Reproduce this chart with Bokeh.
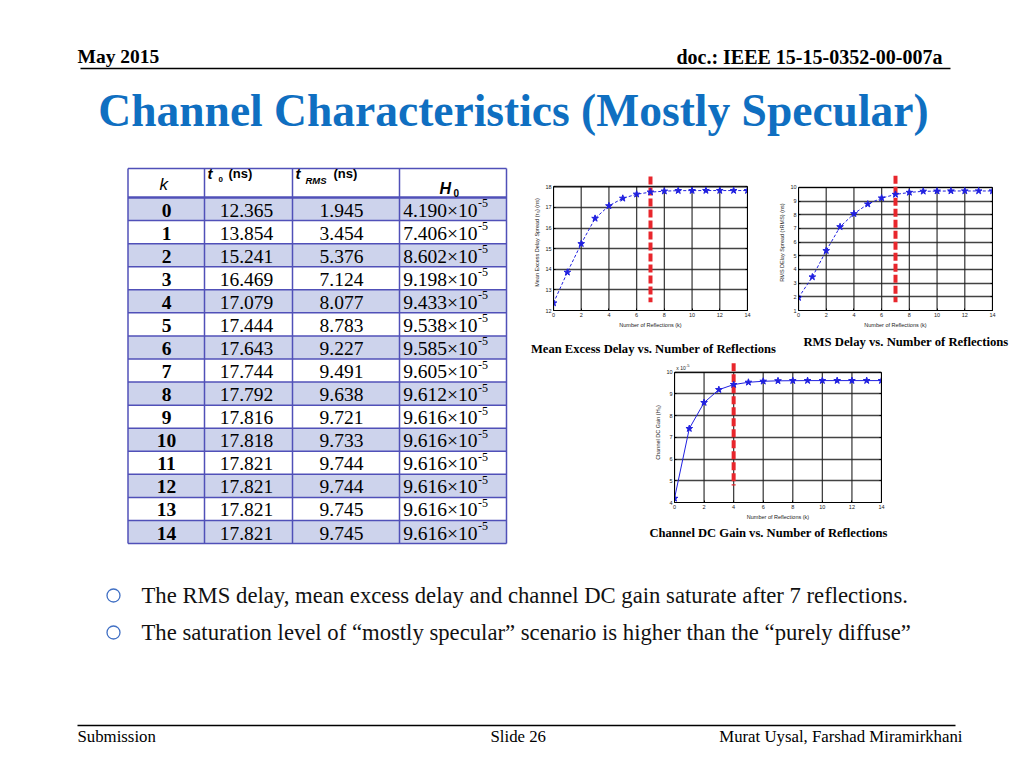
import numpy as np
from bokeh.plotting import figure
from bokeh.models import Range1d, FixedTicker, LinearAxis, Spacer
from bokeh.layouts import column, row
from bokeh.core.properties import value
from bokeh.embed import file_html
from bokeh.resources import INLINE

# ---------------- data ----------------
k = list(range(15))
tau0 = [12.365, 13.854, 15.241, 16.469, 17.079, 17.444, 17.643, 17.744,
        17.792, 17.816, 17.818, 17.821, 17.821, 17.821, 17.821]
trms = [1.945, 3.454, 5.376, 7.124, 8.077, 8.783, 9.227, 9.491,
        9.638, 9.721, 9.733, 9.744, 9.744, 9.745, 9.745]
h0 = [4.190, 7.406, 8.602, 9.198, 9.433, 9.538, 9.585, 9.605,
      9.612, 9.616, 9.616, 9.616, 9.616, 9.616, 9.616]   # x 10^-5
h0_exp = -5
x_ticks = [0, 2, 4, 6, 8, 10, 12, 14]
tau0_ticks = [12, 13, 14, 15, 16, 17, 18]
trms_ticks = [1, 2, 3, 4, 5, 6, 7, 8, 9, 10]
h0_ticks = [4, 5, 6, 7, 8, 9, 10]
sat_tau0, sat_trms, sat_h0 = 7, 7, 4

date_text = "May 2015"
doc_text = "doc.: IEEE 15-15-0352-00-007a"
title_text = "Channel Characteristics (Mostly Specular)"
bullets = ["The RMS delay, mean excess delay and channel DC gain saturate after 7 reflections.",
           "The saturation level of \u201cmostly specular\u201d scenario is higher than the \u201cpurely diffuse\u201d"]
footer_left, footer_mid, footer_right = "Submission", "Slide 26", "Murat Uysal, Farshad Miramirkhani"
cap1 = "Mean Excess Delay vs. Number of Reflections"
cap2 = "RMS Delay vs. Number of Reflections"
cap3 = "Channel DC Gain vs. Number of Reflections"
xlab = "Number of Reflections (k)"
ylab1 = "Mean Excess Delay Spread (\u03c4\u2080) (ns)"
ylab2 = "RMS DElay Spread (\u03c4RMS) (ns)"
ylab3 = "Channel DC Gain (H\u2080)"

SERIF = "Liberation Serif"
SANS = "Liberation Sans"
BLUE_T = "#0f6fc1"
LINE_C = "#5050b8"
ROW_C = "#cdd3ec"
PLOT_C = "#2020e0"
RED = "#e8262c"


def canvas(w, h, x0, x1, y0, y1):
    return figure(width=w, height=h, x_range=Range1d(x0, x1), y_range=Range1d(y1, y0),
                  x_axis_type=None, y_axis_type=None, toolbar_location=None,
                  output_backend="svg", min_border=0, outline_line_color=None,
                  background_fill_color="white", border_fill_color="white")


def txt(p, x, y, s, size, font=SERIF, style="normal", color="#000000",
        align="left", baseline="middle"):
    p.text(x=x, y=y, text=s if isinstance(s, list) else [s],
           text_font=value(font), text_font_size=value(f"{size}px"),
           text_font_style=style, text_color=color, text_align=align,
           text_baseline=baseline)


# ---------------- top (header + title) ----------------
top = canvas(1016, 160, 0, 1016, 0, 160)
txt(top, 77, 55.5, date_text, 19.5, style="bold")
txt(top, 942, 56.5, doc_text, 20, style="bold", align="right")
top.segment(x0=[80], x1=[950], y0=[68], y1=[68], line_color="black", line_width=1.5)
txt(top, 513, 110, title_text, 45.5, style="bold", color=BLUE_T, align="center")

# ---------------- table ----------------
tp = canvas(515, 390, 0, 515, 160, 550)
col_edges = [127.5, 204, 292, 399, 506]
t_top, head_bot, rh = 168, 197, 23.07
n = len(k)
row_top = head_bot + np.arange(n) * rh
row_bot = row_top + rh
row_mid = row_top + rh / 2
fills = [ROW_C if i % 2 == 0 else "white" for i in k]
tp.quad(left=col_edges[0], right=col_edges[-1], top=row_top, bottom=row_bot,
        fill_color=fills, line_color=None)
hy = [t_top] + list(row_bot)
tp.segment(x0=col_edges[0], x1=col_edges[-1], y0=hy, y1=hy, line_color=LINE_C, line_width=1.5)
tp.segment(x0=[col_edges[0]], x1=[col_edges[-1]], y0=[head_bot], y1=[head_bot],
           line_color=LINE_C, line_width=2.5)
tp.segment(x0=col_edges, x1=col_edges, y0=t_top, y1=row_bot[-1], line_color=LINE_C, line_width=1.5)

# header
txt(tp, 159, 184, "k", 17, font=SANS, style="italic")
txt(tp, 207, 173, "t", 15, font=SANS, style="bold italic")
txt(tp, 218, 179, "0", 8, font=SANS, style="bold")
txt(tp, 228, 173, "(ns)", 13, font=SANS, style="bold")
txt(tp, 295, 173, "t", 15, font=SANS, style="bold italic")
txt(tp, 305, 180, "RMS", 9.5, font=SANS, style="bold italic")
txt(tp, 333, 173, "(ns)", 13, font=SANS, style="bold")
txt(tp, 439, 188, "H", 16, font=SANS, style="bold italic")
txt(tp, 453, 192, "0", 10, font=SANS, style="bold")

ty = row_mid + 1
txt(tp, 166, ty, [str(v) for v in k], 19.5, style="bold", align="center")
txt(tp, 246, ty, [f"{v:.3f}" for v in tau0], 19.5, align="center")
txt(tp, 341, ty, [f"{v:.3f}" for v in trms], 19.5, align="center")
txt(tp, 477, ty, [f"{v:.3f}\u00d710" for v in h0], 19.5, align="right")
txt(tp, 477.5, ty - 7, [str(h0_exp)] * n, 12)


# ---------------- charts ----------------
def chart(w, h, ml, mr, mt, mb, yr, ybox, yticks, ylab):
    p = figure(width=w, height=h, x_range=Range1d(0, 14), y_range=Range1d(*yr),
               toolbar_location=None, output_backend="svg",
               min_border_left=ml, min_border_right=mr, min_border_top=mt,
               min_border_bottom=mb, background_fill_color="white",
               border_fill_color="white", outline_line_color=None)
    p.add_layout(LinearAxis(), "right")
    p.xaxis.ticker = FixedTicker(ticks=x_ticks)
    p.yaxis.ticker = FixedTicker(ticks=yticks)
    p.yaxis.bounds = (yr[0], ybox)
    p.xaxis.axis_label = xlab
    p.yaxis[0].axis_label = ylab
    for ax in p.axis:
        ax.axis_line_color = "black"
        ax.major_tick_in = 2
        ax.major_tick_out = 0
        ax.major_tick_line_color = "black"
        ax.minor_tick_line_color = None
        ax.major_label_text_font = SANS
        ax.major_label_text_font_size = "5.5px"
        ax.major_label_text_color = "#222222"
        ax.axis_label_text_font = SANS
        ax.axis_label_text_font_size = "5.5px"
        ax.axis_label_text_font_style = "normal"
        ax.axis_label_text_color = "#222222"
        ax.major_label_standoff = 2
        ax.axis_label_standoff = 2
    p.yaxis[1].major_label_text_color = None
    p.xgrid.visible = False
    p.ygrid.grid_line_color = "#222222"
    p.ygrid.grid_line_width = 1.3
    p.ygrid.grid_line_alpha = 0.85
    # vertical grid lines and top edge of the box, limited to the box
    p.segment(x0=x_ticks, x1=x_ticks, y0=yr[0], y1=ybox,
              line_color="#222222", line_width=1.3, line_alpha=0.85)
    p.segment(x0=[0], x1=[14], y0=[ybox], y1=[ybox], line_color="black", line_width=1)
    return p


def redline(p, x, y0, y1):
    p.segment(x0=[x], x1=[x], y0=[y0], y1=[y1], line_color=RED, line_width=4, line_dash="8 3")


c1 = chart(261, 175, 38, 29, 14, 25, (12, 18.6), 18, tau0_ticks, ylab1)
redline(c1, sat_tau0, 18.5, 12.4)
c1.line(k, tau0, line_color=PLOT_C, line_width=1, line_dash="3 2")
c1.scatter(k, tau0, marker="star", size=7, color=PLOT_C)

c2 = chart(240, 175, 21, 24, 11, 25, (1, 10.95), 10, trms_ticks, ylab2)
redline(c2, sat_trms, 10.86, 1.6)
c2.line(k, trms, line_color=PLOT_C, line_width=1, line_dash="3 2")
c2.scatter(k, trms, marker="star", size=7, color=PLOT_C)

c3 = chart(270, 166, 39, 24, 6, 17, (4, 10.45), 10, h0_ticks, ylab3)
redline(c3, sat_h0, 10.42, 4.78)
c3.line(k, h0, line_color=PLOT_C, line_width=1)
c3.scatter(k, h0, marker="star", size=7, color=PLOT_C)
txt(c3, 0.12, 10.19, "x 10", 5, font=SANS, color="#222222")
txt(c3, 0.78, 10.30, str(h0_exp), 4, font=SANS, color="#222222")

# captions
capA = canvas(501, 21, 515, 1016, 335, 356)
txt(capA, 653, 348, cap1, 12.6, style="bold", align="center")
txt(capA, 905.5, 341, cap2, 12.7, style="bold", align="center")
capB = canvas(501, 28, 515, 1016, 522, 550)
txt(capB, 768, 532, cap3, 12.6, style="bold", align="center")

# ---------------- bottom (bullets + footer) ----------------
bt = canvas(1016, 210, 0, 1016, 550, 760)
by = [595, 632]
bt.scatter(x=113, y=by, marker="circle", size=13, fill_color=None,
           line_color="#4170c4", line_width=1.3)
txt(bt, 141, [595, 632], bullets, 22.7, color="#111111")
bt.segment(x0=[77], x1=[955], y0=[725], y1=[725], line_color="black", line_width=1.5)
txt(bt, 77, 736, footer_left, 16.8)
txt(bt, 490, 736, footer_mid, 16.8)
txt(bt, 962, 736, footer_right, 16.8, align="right")

layout = column(
    top,
    row(tp, column(row(c1, c2),
                   capA,
                   row(Spacer(width=120, height=166), c3, Spacer(width=111, height=166)),
                   capB)),
    bt,
)

open("out.html", "w").write(file_html(layout, INLINE))
